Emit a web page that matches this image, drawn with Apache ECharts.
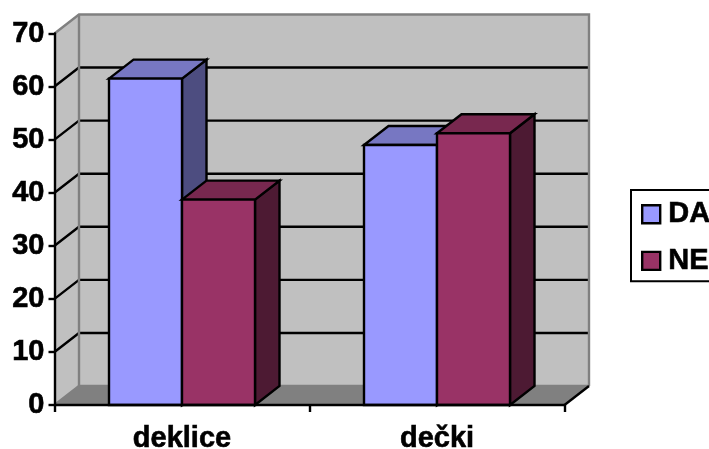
<!DOCTYPE html>
<html><head><meta charset="utf-8">
<style>html,body{margin:0;padding:0;background:#fff}#c{width:709px;height:449px}</style>
<script src="https://cdn.jsdelivr.net/npm/echarts@6/dist/echarts.min.js"></script>
</head><body><div id="c"></div>
<script>
const categories = ['deklice', 'dečki'];
const valuesDA = [61.5, 49];
const valuesNE = [38.7, 51.2];
const yMax = 70;
const yStep = 10;
const gridValues = [10, 20, 30, 40, 50, 60];
const depthX = 24.5, depthY = -19;
const barShare = 73 / 255;
const colors = {
  wall: '#C0C0C0', wallEdge: '#808080', floor: '#808080', floorEdge: '#6e6e6e',
  da: '#9999FF', daTop: '#7777C2', daSide: '#4D4D80',
  ne: '#993366', neTop: '#78284F', neSide: '#4D1A33'
};
const FONT = '"Liberation Sans", Arial, sans-serif';
const LW = 2.4;
const boldText = {color: '#000', fontFamily: FONT, fontWeight: 'bold', fontSize: 29,
  textBorderColor: '#000', textBorderWidth: 0.6};

const chart = echarts.init(document.getElementById('c'), null, {renderer: 'canvas'});

function poly(points, fill, stroke, lw) {
  return {type: 'polygon', shape: {points},
    style: {fill, stroke: stroke || 'none', lineWidth: lw || 0, lineJoin: 'miter'}};
}
function line(a, b, stroke, lw) {
  return {type: 'line', shape: {x1: a[0], y1: a[1], x2: b[0], y2: b[1]},
    style: {stroke, lineWidth: lw, fill: 'none'}};
}
function walls(params, api) {
  const r = params.coordSys;
  const L = r.x, R = r.x + r.width, T = r.y, B = r.y + r.height;
  const d = (p) => [p[0] + depthX, p[1] + depthY];
  const kids = [];
  kids.push(poly([[L, B], d([L, B]), d([R, B]), [R, B]], colors.floor));
  kids.push(poly([[L, T], d([L, T]), d([L, B]), [L, B]], colors.wall));
  kids.push(poly([d([L, T]), d([R, T]), d([R, B]), d([L, B])], colors.wall));
  gridValues.forEach(v => {
    const y = api.coord([0, v])[1];
    kids.push({type: 'polyline', shape: {points: [[L, y], d([L, y]), d([R, y])]},
      style: {stroke: '#000', lineWidth: LW, fill: 'none'}});
  });
  kids.push({type: 'polyline', shape: {points: [[L, T], d([L, T]), d([R, T]), d([R, B])]},
    style: {stroke: colors.wallEdge, lineWidth: LW, fill: 'none'}});
  kids.push(line(d([L, T]), d([L, B]), colors.wallEdge, LW));
  kids.push({type: 'polyline', shape: {points: [[L, B], d([L, B]), d([R, B])]},
    style: {stroke: colors.wallEdge, lineWidth: LW, fill: 'none'}});
  kids.push(line(d([R, B]), [R, B], '#000', LW));
  return {type: 'group', children: kids};
}
function bar(front, top, side, first) {
  return function (params, api) {
    const c = api.coord([api.value(0), api.value(1)]);
    const base = api.coord([api.value(0), 0]);
    const w = api.size([1, 0])[0] * barShare;
    const x0 = first ? c[0] - w : c[0];
    const x1 = x0 + w;
    const yT = c[1], yB = base[1];
    return {type: 'group', children: [
      poly([[x1, yB], [x1 + depthX, yB + depthY], [x1 + depthX, yT + depthY], [x1, yT]], side, '#000', LW),
      poly([[x0, yT], [x0 + depthX, yT + depthY], [x1 + depthX, yT + depthY], [x1, yT]], top, '#000', LW),
      poly([[x0, yT], [x1, yT], [x1, yB], [x0, yB]], front, '#000', LW)
    ]};
  };
}
const pairs = (vals) => vals.map((v, i) => [i, v]);

chart.setOption({
  animation: false,
  backgroundColor: '#fff',
  grid: {left: 54.5, top: 33.5, width: 510, height: 371.5, outerBoundsMode: 'none'},
  xAxis: {
    type: 'category', data: categories, z: 6,
    axisLine: {lineStyle: {color: '#000', width: LW}},
    axisTick: {show: true, length: 7, alignWithLabel: false, lineStyle: {color: '#000', width: LW}},
    axisLabel: Object.assign({margin: 19}, boldText),
    splitLine: {show: false}
  },
  yAxis: {
    type: 'value', min: 0, max: yMax, interval: yStep, z: 6,
    axisLine: {show: true, lineStyle: {color: '#000', width: LW}},
    axisTick: {show: true, length: 6, lineStyle: {color: '#000', width: LW}},
    axisLabel: Object.assign({margin: 10, padding: [2, 0, 0, 0]}, boldText),
    splitLine: {show: false}
  },
  legend: {
    show: true, orient: 'vertical', left: 631, top: 190,
    data: ['DA', 'NE'], icon: 'rect',
    itemWidth: 18, itemHeight: 18, itemGap: 17,
    padding: [9.5, 60, 5.5, 10],
    borderColor: '#000', borderWidth: 2, backgroundColor: '#fff',
    textStyle: Object.assign({padding: [0, 0, 0, 3]}, boldText),
    itemStyle: {borderColor: '#000', borderWidth: LW},
    selectedMode: false
  },
  series: [
    {type: 'custom', name: 'walls', data: [[0, 0]], renderItem: walls, clip: false, z: 1, silent: true,
      encode: {x: 0, y: 1}},
    {type: 'custom', name: 'DA', data: pairs(valuesDA), renderItem: bar(colors.da, colors.daTop, colors.daSide, true),
      clip: false, z: 2, itemStyle: {color: colors.da}, encode: {x: 0, y: 1}},
    {type: 'custom', name: 'NE', data: pairs(valuesNE), renderItem: bar(colors.ne, colors.neTop, colors.neSide, false),
      clip: false, z: 3, itemStyle: {color: colors.ne}, encode: {x: 0, y: 1}}
  ]
});
</script></body></html>
